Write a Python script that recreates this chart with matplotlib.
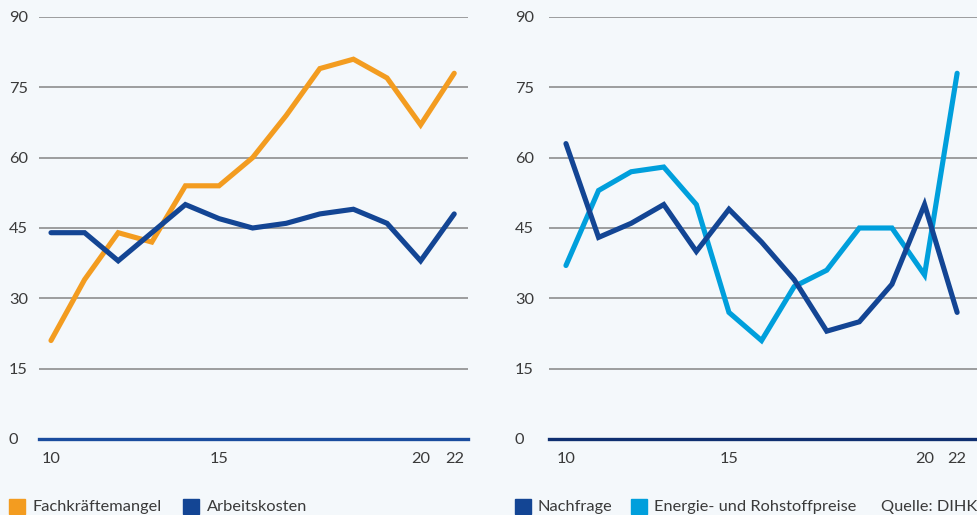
import matplotlib
matplotlib.use("Agg")
import matplotlib.pyplot as plt
from matplotlib.patches import Rectangle

plt.rcParams['font.family'] = ['Lato', 'DejaVu Sans']

# Survey periods (13 observations); only some carry a tick label
periods = ["10", "", "", "", "", "15", "", "", "", "", "", "20", "22"]

# Left panel
fachkraeftemangel = [21, 34, 44, 42, 54, 54, 60, 69, 79, 81, 77, 67, 78]
arbeitskosten = [44, 44, 38, 44, 50, 47, 45, 46, 48, 49, 46, 38, 48]

# Right panel
nachfrage = [63, 43, 46, 50, 40, 49, 42, 34, 23, 25, 33, 50, 27]
energie = [37, 53, 57, 58, 50, 27, 21, 32.5, 36, 45, 45, 35, 78]

yticks = [0, 15, 30, 45, 60, 75, 90]

BG = "#f4f8fb"
ORANGE = "#f39c20"
BLUE = "#134594"
CYAN = "#009fdc"
TEXT = "#3a3a3a"
GRID = "#858585"
FS = 11.8

W, H = 978, 515
fig = plt.figure(figsize=(W / 100, H / 100), dpi=100, facecolor=BG)


def px_box(x0, x1, y_top, y_bot):
    return [x0 / W, 1 - y_bot / H, (x1 - x0) / W, (y_bot - y_top) / H]


def style_axis(ax, xlim, label_pad_px, base_color):
    ax.set_facecolor(BG)
    ax.set_ylim(0, 90)
    ax.set_xlim(*xlim)
    for s in ax.spines.values():
        s.set_visible(False)
    ax.set_yticks(yticks)
    ax.set_yticklabels([str(v) for v in yticks])
    ax.tick_params(axis='y', length=0, pad=label_pad_px * 0.72,
                   labelsize=FS, labelcolor=TEXT)
    for lab in ax.get_yticklabels():
        lab.set_horizontalalignment('left')
    ax.set_xticks(range(len(periods)))
    ax.set_xticklabels(periods)
    ax.tick_params(axis='x', length=0, pad=9.5, labelsize=FS, labelcolor=TEXT)
    for v in yticks[1:]:
        ax.axhline(v, color=GRID, lw=1.1, zorder=1)
    ax.axhline(0, color=base_color, lw=2.4, zorder=3, clip_on=False)


x = list(range(len(periods)))

ax1 = fig.add_axes(px_box(39, 468, 17, 439))
style_axis(ax1, (-0.357, 12.41), 30, "#1a4c9e")
ax1.plot(x, fachkraeftemangel, color=ORANGE, lw=3.7, solid_capstyle='round',
         solid_joinstyle='miter', zorder=4)
ax1.plot(x, arbeitskosten, color=BLUE, lw=3.7, solid_capstyle='round',
         solid_joinstyle='miter', zorder=5)

ax2 = fig.add_axes(px_box(549, 978, 17, 439))
style_axis(ax2, (-0.52, 12.64), 34, "#0f2f70")
ax2.plot(x, energie, color=CYAN, lw=3.7, solid_capstyle='round',
         solid_joinstyle='miter', zorder=4)
ax2.plot(x, nachfrage, color=BLUE, lw=3.7, solid_capstyle='round',
         solid_joinstyle='miter', zorder=5)

# Legend row
legend_items = [
    (9, ORANGE, 32, "Fachkräftemangel"),
    (183, BLUE, 207, "Arbeitskosten"),
    (515, BLUE, 538, "Nachfrage"),
    (631, CYAN, 654, "Energie- und Rohstoffpreise"),
]
for sx, col, tx, label in legend_items:
    fig.patches.append(Rectangle((sx / W, 1 - 514 / H), 16 / W, 15 / H,
                                 transform=fig.transFigure, color=col))
    fig.text(tx / W, 1 - 507 / H, label, fontsize=FS, color=TEXT,
             ha='left', va='center')
fig.text(977 / W, 1 - 507 / H, "Quelle: DIHK", fontsize=FS, color=TEXT,
         ha='right', va='center')

fig.savefig("out.png", dpi=100, facecolor=BG)
